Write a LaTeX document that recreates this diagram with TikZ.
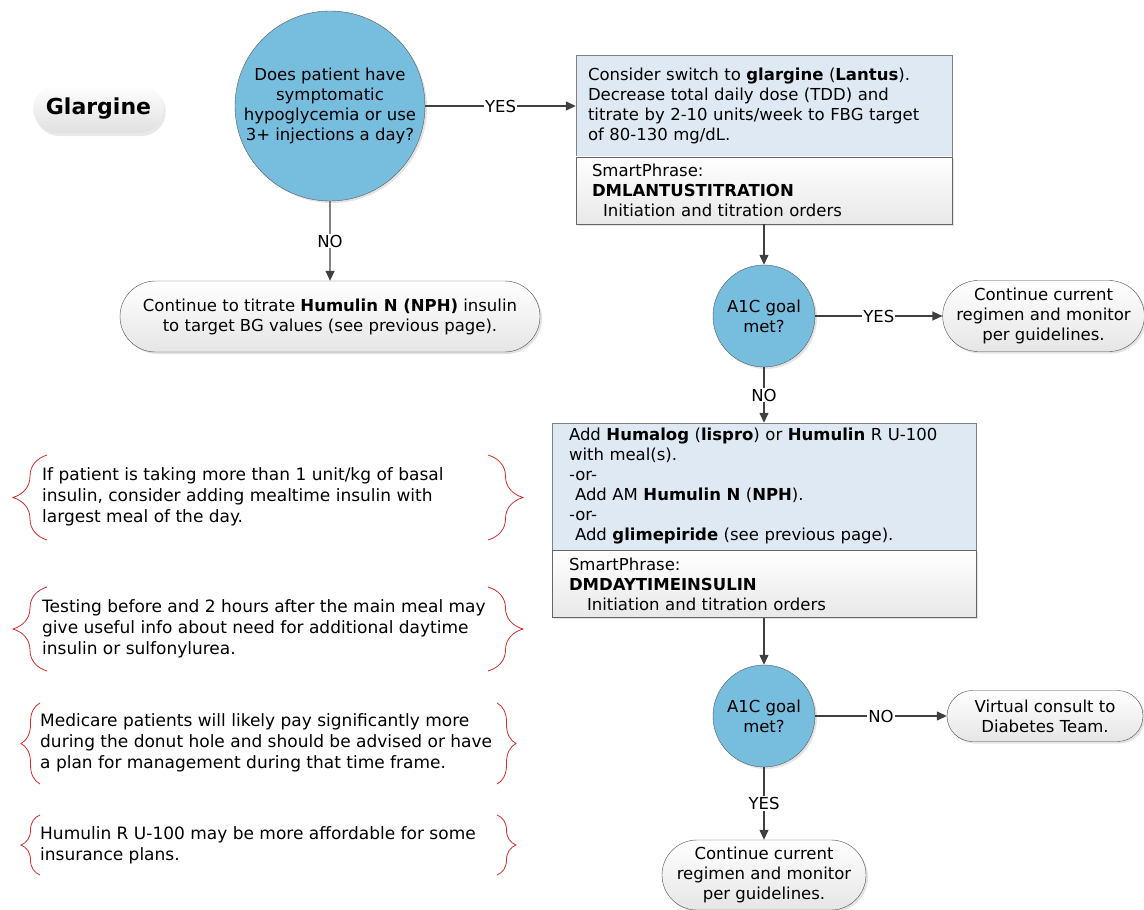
\documentclass[tikz,border=0pt]{standalone}
\usepackage{fontspec}
\setmainfont{DejaVu Sans}
\usetikzlibrary{arrows.meta,shapes.misc,shadows,decorations.pathreplacing}

\definecolor{askblue}{HTML}{77BDDE}
\definecolor{stepblue}{HTML}{DEE9F3}
\definecolor{linegray}{HTML}{404040}
\definecolor{bracered}{HTML}{D42A2A}

\tikzset{
	softshadow/.style={drop shadow={opacity=0.22, shadow xshift=2pt, shadow yshift=-2pt}},
	titlepill/.style={rounded rectangle, top color=white, bottom color=black!12, minimum width=137pt, minimum height=48pt, font=\fontsize{22}{26}\selectfont\bfseries, drop shadow={opacity=0.18, shadow xshift=2pt, shadow yshift=-3pt}},
	question/.style={circle, draw=black!65, fill=askblue, align=center, inner sep=0pt, softshadow},
	terminal/.style={rounded rectangle, draw=black!70, top color=white, bottom color=black!10, align=center, inner sep=0pt, softshadow},
	stepbox/.style={rectangle, draw=black!50, fill=stepblue, align=left, inner ysep=0pt},
	phrasebox/.style={rectangle, draw=black!60, top color=white, bottom color=black!9, align=left, inner ysep=0pt, softshadow},
	flow/.style={draw=linegray, line width=1.3pt, -{Triangle[length=10pt, width=9pt]}},
	answer/.style={fill=white, inner sep=1pt},
	notetext/.style={anchor=west, align=left, inner xsep=0pt, font=\fontsize{17}{21}\selectfont},
	notebrace/.style={draw=bracered, line width=0.8pt, decorate, decoration={brace, amplitude=#1}},
}

\begin{document}
\begin{tikzpicture}[x=1pt, y=-1pt, font=\fontsize{16.5}{20}\selectfont]
	%%%%% START %%%%%
	\useasboundingbox (0,0) rectangle (1144,910);

	\node[titlepill] (glargine) at (98.5,109) {Glargine};

	%% first question
	\node[question, minimum size=190pt] (hypo) at (330,106) {Does patient have\\symptomatic\\hypoglycemia or use\\3+ injections a day?};
	\node[terminal, minimum width=420pt, minimum height=71pt] (titrate) at (330,316.5) {Continue to titrate \textbf{Humulin N (NPH)} insulin\\to target BG values (see previous page).};

	%% glargine branch
	\node[stepbox, inner xsep=12pt, text width=352pt, minimum height=101pt] (lantus) at (764,106) {Consider switch to \textbf{glargine} (\textbf{Lantus}).\\Decrease total daily dose (TDD) and\\titrate by 2-10 units/week to FBG target\\of 80-130 mg/dL.};
	\node[phrasebox, inner xsep=16pt, text width=344pt, minimum height=67pt, anchor=north] (lantusphrase) at (lantus.south) {SmartPhrase:\\\textbf{DMLANTUSTITRATION}\\\hspace*{11pt}Initiation and titration orders};

	\node[question, minimum size=102pt] (goal) at (764,316) {A1C goal\\met?};
	\node[terminal, minimum width=199pt, minimum height=71pt] (keepon) at (1043.5,316) {Continue current\\regimen and monitor\\per guidelines.};

	%% daytime insulin
	\node[stepbox, inner xsep=17pt, text width=390pt, minimum height=127pt] (daytime) at (764,486.5) {Add \textbf{Humalog} (\textbf{lispro}) or \textbf{Humulin} R U-100\\with meal(s).\\-or-\\\hspace*{6pt}Add AM \textbf{Humulin N} (\textbf{NPH}).\\-or-\\\hspace*{6pt}Add \textbf{glimepiride} (see previous page).};
	\node[phrasebox, inner xsep=17pt, text width=390pt, minimum height=67pt, anchor=north] (daytimephrase) at (daytime.south) {SmartPhrase:\\\textbf{DMDAYTIMEINSULIN}\\\hspace*{18pt}Initiation and titration orders};

	\node[question, minimum size=102pt] (goalagain) at (764,716) {A1C goal\\met?};
	\node[terminal, minimum width=196pt, minimum height=51pt] (consult) at (1045,716) {Virtual consult to\\Diabetes Team.};
	\node[terminal, minimum width=204pt, minimum height=70pt] (keepup) at (764,875) {Continue current\\regimen and monitor\\per guidelines.};

	%% connectors
	\draw[flow] (hypo) -- node[answer] {YES} (lantus);
	\draw[flow] (hypo) -- node[answer] {NO} (titrate);
	\draw[flow] (lantusphrase) -- (goal);
	\draw[flow] (goal) -- node[answer] {YES} (keepon);
	\draw[flow] (goal) -- node[answer] {NO} (daytime);
	\draw[flow] (daytimephrase) -- (goalagain);
	\draw[flow] (goalagain) -- node[answer] {NO} (consult);
	\draw[flow] (goalagain) -- node[answer] {YES} (keepup);

	%% side notes
	\node[notetext] (basalnote) at (42,497) {If patient is taking more than 1 unit/kg of basal\\insulin, consider adding mealtime insulin with\\largest meal of the day.};
	\draw[notebrace=34pt] (47,540) -- (47,455);
	\draw[notebrace=35pt] (488,455) -- (488,540);

	\node[notetext] (testnote) at (42,629) {Testing before and 2 hours after the main meal may\\give useful info about need for additional daytime\\insulin or sulfonylurea.};
	\draw[notebrace=34pt] (47,671) -- (47,587);
	\draw[notebrace=35pt] (488,587) -- (488,671);

	\node[notetext] (medicarenote) at (40,743) {Medicare patients will likely pay significantly more\\during the donut hole and should be advised or have\\a plan for management during that time frame.};
	\draw[notebrace=19pt] (40,784) -- (40,703);
	\draw[notebrace=19pt] (497,703) -- (497,784);

	\node[notetext] (costnote) at (40,845) {Humulin R U-100 may be more affordable for some\\insurance plans.};
	\draw[notebrace=19pt] (40,875) -- (40,815);
	\draw[notebrace=19pt] (497,815) -- (497,875);
	%%%%% END %%%%%
\end{tikzpicture}
\end{document}
